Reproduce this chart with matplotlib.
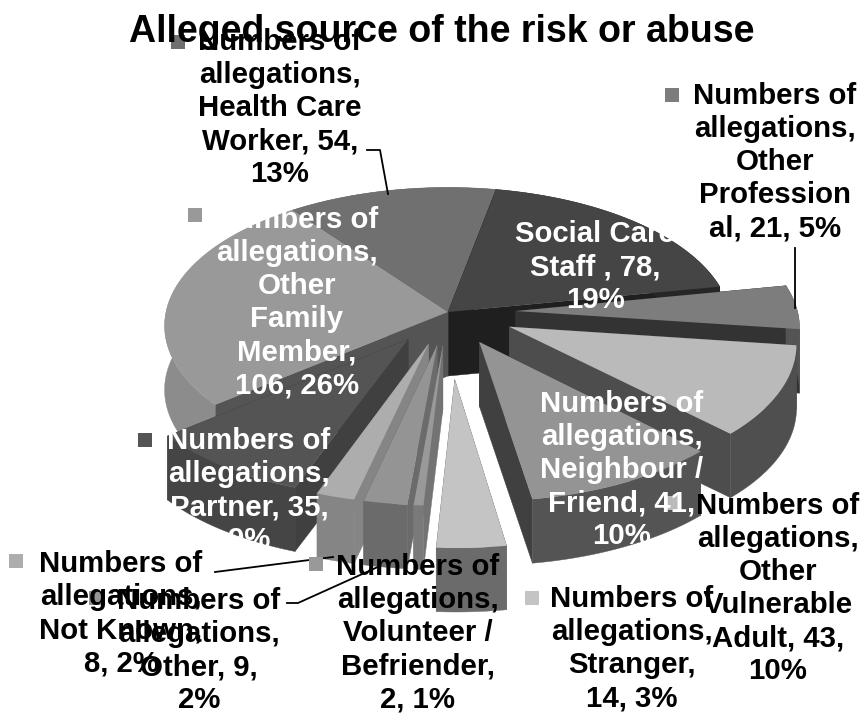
import numpy as np
import matplotlib
matplotlib.use("Agg")
import matplotlib.pyplot as plt
from matplotlib.patches import Polygon, Rectangle
from matplotlib.transforms import Transform

plt.rcParams['font.family'] = ['Liberation Sans', 'DejaVu Sans']

# Data, clockwise from Social Care Staff
categories = ["Social Care Staff", "Other Professional", "Other Vulnerable Adult",
              "Neighbour / Friend", "Stranger", "Volunteer / Befriender", "Other",
              "Not Known", "Partner", "Other Family Member", "Health Care Worker"]
values = [78, 21, 43, 41, 14, 2, 9, 8, 35, 106, 54]
labels = ["Social Care\nStaff , 78,\n19%",
          "Numbers of\nallegations,\nOther\nProfession\nal, 21, 5%",
          "Numbers of\nallegations,\nOther\nVulnerable\nAdult, 43,\n10%",
          "Numbers of\nallegations,\nNeighbour /\nFriend, 41,\n10%",
          "Numbers of\nallegations,\nStranger,\n14, 3%",
          "Numbers of\nallegations,\nVolunteer /\nBefriender,\n2, 1%",
          "Numbers of\nallegations,\nOther, 9,\n2%",
          "Numbers of\nallegations,\nNot Known,\n8, 2%",
          "Numbers of\nallegations,\nPartner, 35,\n9%",
          "Numbers of\nallegations,\nOther\nFamily\nMember,\n106, 26%",
          "Numbers of\nallegations,\nHealth Care\nWorker, 54,\n13%"]

# Styling per slice
explode = [0, .24, .24, .24, .47, .24, .24, .24, .24, 0, 0]
top_grey = ['0.27', '0.49', '0.73', '0.58', '0.77', '0.60', '0.58', '0.68', '0.33', '0.60', '0.44']
cut_grey = ['0.12', '0.20', '0.30', '0.25', '0.42', '0.45', '0.42', '0.52', '0.25', '0.33', '0.30']
side_grey = ['0.15', '0.33', '0.31', '0.33', '0.42', '0.48', '0.42', '0.52', '0.27', '0.55', '0.35']
draw_order = [10, 0, 9, 1, 2, 8, 7, 6, 5, 3, 4]

# Label layout: centre x, first line y, key x, key y, text colour
label_x = [595, 775, 778, 622, 632, 418, 199, 121, 249, 297, 280]
label_y = [233, 95, 505, 403, 598, 566, 600, 563, 440, 219, 41]
key_x = [None, 672, 674, 519, 532, 316, 96, 16, 145, 195, 178]
key_y = [None, 95, 503, 400, 598, 564, 598, 561, 440, 215, 42]
text_col = ['white', 'black', 'black', 'white', 'black', 'black', 'black', 'black', 'white', 'white', 'black']

CX, CY = 448, 312
A, B, K = 137, 282, 0.1
DROP = 64


class Persp(Transform):
    input_dims = 2
    output_dims = 2
    is_affine = False
    has_inverse = False

    def transform_non_affine(self, xy):
        xy = np.asarray(xy, dtype=float)
        w = 1 + K * xy[:, 1]
        return np.column_stack([CX + B * xy[:, 0] / w, CY - A * xy[:, 1] / w])


persp = Persp()


def face(ax, pts, colour, z):
    pts = persp.transform(np.asarray(pts))
    low = pts + [0, DROP]
    ax.add_patch(Polygon(np.vstack([pts, low[::-1]]), closed=True, fc=colour,
                         ec=colour, lw=0.3, zorder=z))


fig = plt.figure(figsize=(8.65, 7.14), dpi=100)
ax = fig.add_axes([0, 0, 1, 1])
wedges, _ = ax.pie(values, explode=explode, colors=top_grey, startangle=79.2,
                   counterclock=False, radius=1, frame=False)
ax.set_aspect('auto')
ax.set_xlim(0, 865)
ax.set_ylim(714, 0)
ax.axis('off')

for rank, i in enumerate(draw_order):
    w = wedges[i]
    z = 10 + 2 * rank
    w.set_transform(persp + ax.transData)
    w.set_zorder(z + 1)
    w.set_clip_on(False)
    w.set_edgecolor('none')

    c = np.array(w.center)
    t = np.radians(np.linspace(w.theta1, w.theta2, 60))
    arc = c + np.column_stack([np.cos(t), np.sin(t)])
    # higher cut edge first so the one facing us lies over it
    edges = sorted([arc[0], arc[-1]], key=lambda p: -p[1])
    for e in edges:
        face(ax, [c, e], cut_grey[i], z)
    face(ax, arc, side_grey[i], z)

# Leader lines
ax.plot([388, 380, 367], [194, 150, 150], color='black', lw=1.3, zorder=100)
ax.plot([795, 795], [248, 308], color='black', lw=1.3, zorder=100)
ax.plot([215, 333], [572, 557], color='black', lw=1.3, zorder=100)
ax.plot([287, 298, 380], [603, 603, 566], color='black', lw=1.3, zorder=100)

for i, txt in enumerate(labels):
    if key_x[i] is not None:
        ax.add_patch(Rectangle((key_x[i] - 7, key_y[i] - 7), 14, 14, fc=top_grey[i],
                               ec='none', zorder=105))
    ax.text(label_x[i], label_y[i] - 13, txt, ha='center', va='top', fontsize=21.2,
            fontweight='bold', color=text_col[i], linespacing=1.23, zorder=110)

ax.text(442, 32, "Alleged source of the risk or abuse", ha='center', va='center',
        fontsize=27, fontweight='bold', color='black', zorder=120)

fig.savefig("out.png", dpi=100)
